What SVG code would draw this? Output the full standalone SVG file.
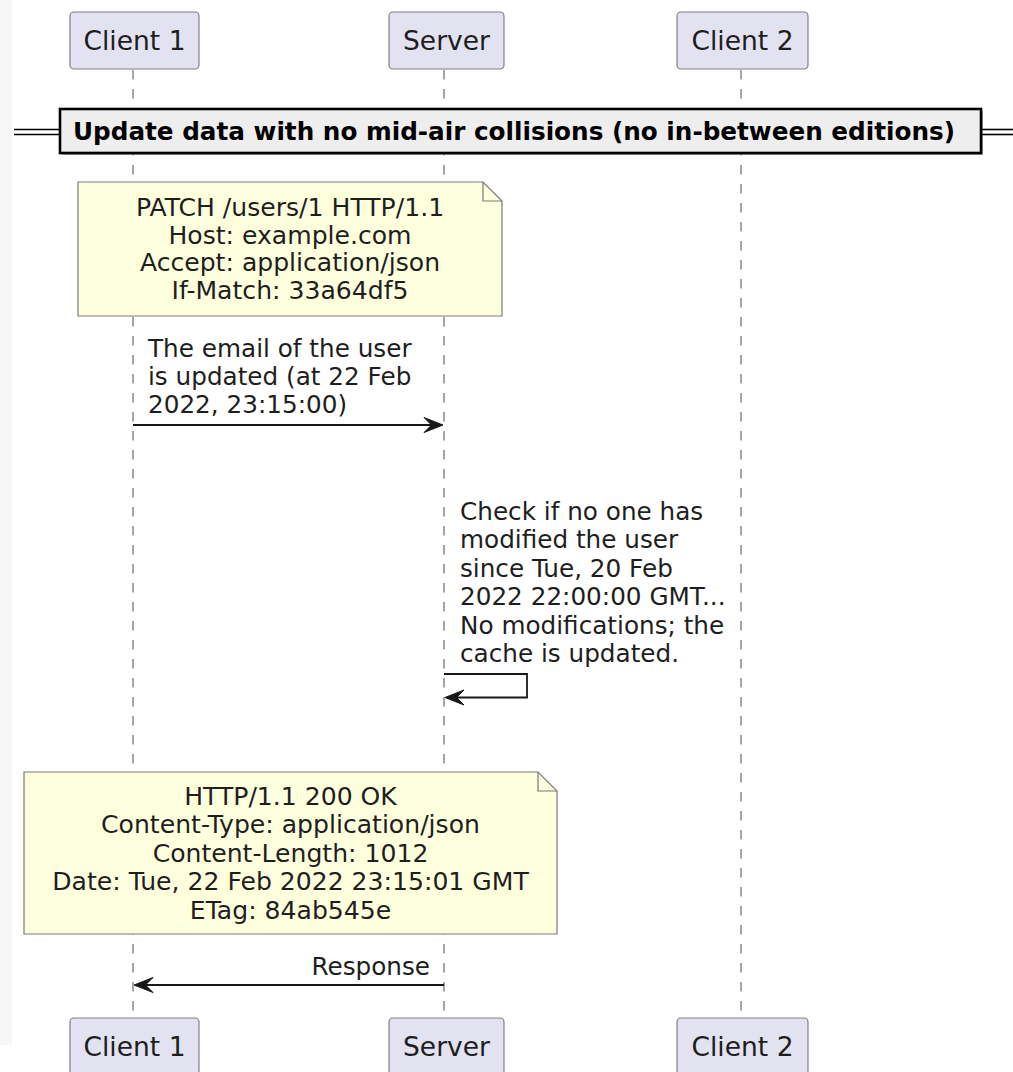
<svg xmlns="http://www.w3.org/2000/svg" width="1013" height="1072" viewBox="0 0 1013 1072">
<style>
.part{fill:#E2E2F0;stroke:#808080;stroke-width:1.2}
.ptxt{font-family:"DejaVu Sans",sans-serif;font-size:26.5px;fill:#1e1e1e;text-anchor:middle}
.life{stroke:#6a6a6a;stroke-width:1.2;stroke-dasharray:9.5,9.5;fill:none}
.note{fill:#FEFFDD;stroke:#7a7a7a;stroke-width:1.2}
.ntxt{font-family:"DejaVu Sans",sans-serif;font-size:25.1px;fill:#1e1e1e;text-anchor:middle}
.mtxt{font-family:"DejaVu Sans",sans-serif;font-size:24.7px;fill:#1e1e1e}
.msg{stroke:#181818;stroke-width:1.8;fill:none}
.head{fill:#181818;stroke:#181818;stroke-width:1}
</style>
<rect x="0" y="0" width="1013" height="1072" fill="#ffffff"/>
<rect x="0" y="0" width="12" height="1045" fill="#f7f7f7"/>
<g id="lifelines">
<line class="life" x1="133" y1="70" x2="133" y2="1018"/>
<line class="life" x1="444" y1="70" x2="444" y2="1018"/>
<line class="life" x1="741" y1="70" x2="741" y2="1018"/>
</g>
<g id="client1-top"><rect class="part" x="70" y="12" width="129" height="57" rx="4"/><text class="ptxt" x="134.5" y="50">Client 1</text></g>
<g id="server-top"><rect class="part" x="389" y="12" width="115" height="57" rx="4"/><text class="ptxt" x="446.5" y="50">Server</text></g>
<g id="client2-top"><rect class="part" x="677" y="12" width="131" height="57" rx="4"/><text class="ptxt" x="742.5" y="50">Client 2</text></g>
<g id="divider">
<line x1="14" y1="129.5" x2="60" y2="129.5" stroke="#000" stroke-width="1.6"/>
<line x1="14" y1="134.5" x2="60" y2="134.5" stroke="#000" stroke-width="1.6"/>
<line x1="982" y1="129.5" x2="1013" y2="129.5" stroke="#000" stroke-width="1.6"/>
<line x1="982" y1="134.5" x2="1013" y2="134.5" stroke="#000" stroke-width="1.6"/>
<rect x="62" y="111" width="921" height="44" fill="#555" opacity="0.5"/>
<rect x="60" y="109" width="921" height="44" fill="#EEEEEE" stroke="#000" stroke-width="2.6"/>
<text x="73" y="140" font-family="'DejaVu Sans',sans-serif" font-size="24.7px" font-weight="bold" fill="#000" textLength="882" lengthAdjust="spacingAndGlyphs">Update data with no mid-air collisions (no in-between editions)</text>
</g>
<g id="note-request">
<path class="note" d="M78,182 H483 L502,201 V316 H78 Z"/>
<path d="M483,182 V201 H502" fill="none" stroke="#7a7a7a" stroke-width="1.2"/>
<text class="ntxt" x="290" y="216">PATCH /users/1 HTTP/1.1</text>
<text class="ntxt" x="290" y="243.7">Host: example.com</text>
<text class="ntxt" x="290" y="271.4">Accept: application/json</text>
<text class="ntxt" x="290" y="299">If-Match: 33a64df5</text>
</g>
<g id="connectors">
<g id="msg-update">
<text class="mtxt" x="148" y="357">The email of the user</text>
<text class="mtxt" x="148" y="385">is updated (at 22 Feb</text>
<text class="mtxt" x="148" y="413">2022, 23:15:00)</text>
<line class="msg" x1="133" y1="425" x2="440" y2="425"/>
<polygon class="head" points="443,425 424,417.5 431.5,425 424,432.5"/>
</g>
<g id="msg-self">
<text class="mtxt" x="460" y="520">Check if no one has</text>
<text class="mtxt" x="460" y="548.4">modified the user</text>
<text class="mtxt" x="460" y="576.8">since Tue, 20 Feb</text>
<text class="mtxt" x="460" y="605.2">2022 22:00:00 GMT...</text>
<text class="mtxt" x="460" y="633.6">No modifications; the</text>
<text class="mtxt" x="460" y="662">cache is updated.</text>
<polyline class="msg" points="444,674 527,674 527,697.5 448,697.5"/>
<polygon class="head" points="445,697.5 464,690 456.5,697.5 464,705"/>
</g>
<g id="msg-response">
<text class="mtxt" x="430" y="975" text-anchor="end">Response</text>
<line class="msg" x1="444" y1="985" x2="137" y2="985"/>
<polygon class="head" points="134,985 153,977.5 145.5,985 153,992.5"/>
</g>
</g>
<g id="note-response">
<path class="note" d="M24,772 H538 L557,791 V934 H24 Z"/>
<path d="M538,772 V791 H557" fill="none" stroke="#7a7a7a" stroke-width="1.2"/>
<text class="ntxt" x="290.5" y="805">HTTP/1.1 200 OK</text>
<text class="ntxt" x="290.5" y="833">Content-Type: application/json</text>
<text class="ntxt" x="290.5" y="861.5">Content-Length: 1012</text>
<text class="ntxt" x="290.5" y="890">Date: Tue, 22 Feb 2022 23:15:01 GMT</text>
<text class="ntxt" x="290.5" y="918.5">ETag: 84ab545e</text>
</g>
<g id="client1-bottom"><rect class="part" x="70" y="1018" width="129" height="57" rx="4"/><text class="ptxt" x="134.5" y="1056">Client 1</text></g>
<g id="server-bottom"><rect class="part" x="389" y="1018" width="115" height="57" rx="4"/><text class="ptxt" x="446.5" y="1056">Server</text></g>
<g id="client2-bottom"><rect class="part" x="677" y="1018" width="131" height="57" rx="4"/><text class="ptxt" x="742.5" y="1056">Client 2</text></g>
</svg>
